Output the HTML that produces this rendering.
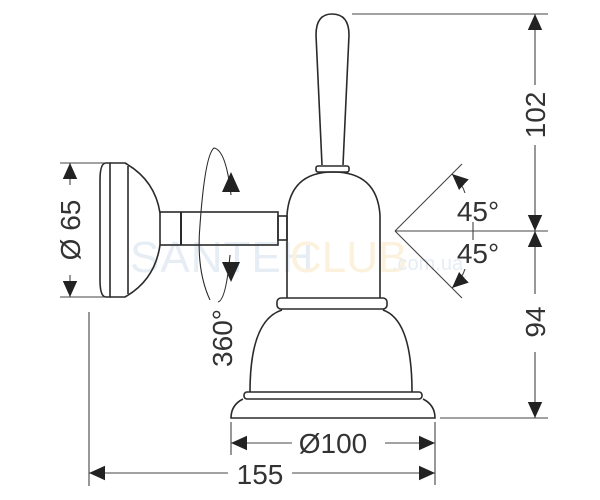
<!DOCTYPE html>
<html><head><meta charset="utf-8"><style>html,body{margin:0;padding:0;background:#fff}svg{display:block}</style></head>
<body>
<svg width="600" height="500" viewBox="0 0 600 500" xmlns="http://www.w3.org/2000/svg" font-family="Liberation Sans, sans-serif">
<defs>
<marker id="a" viewBox="0 0 10 10" refX="10" refY="5" markerWidth="16" markerHeight="16" markerUnits="userSpaceOnUse" orient="auto"><path d="M0,0.5L10,5L0,9.5z" fill="#222"/></marker>
</defs>
<text x="130" y="272" font-size="44" fill="#e6edf4" letter-spacing="1">SANTEH</text>
<text x="290" y="272" font-size="44" fill="#fcf1dc">CLUB</text>
<text x="392" y="270" font-size="20" fill="#e6edf4">.com.ua</text>
<g fill="none" stroke="#2a2a2a" stroke-width="1.6">
<path d="M322,165 L316,35 Q316,14 332,14 Q349,14 349,35 L343,165"/>
<rect x="316" y="166" width="33" height="6" rx="2"/>
<path d="M287,298 L287,215 Q290,172 333,172 Q377,172 380,215 L380,298"/>
<rect x="277" y="298" width="110" height="11" rx="4"/>
<path d="M250,392 Q250,320 282,310 M383,310 Q412,320 412,392"/>
<rect x="244" y="392" width="178" height="7" rx="3"/>
<path d="M243,399 Q231,405 231,418 L435,418 Q435,405 423,399"/>
<path d="M106,163 Q100,163 100,180 L100,280 Q100,297 106,297 L110,297 L110,163 Z"/>
<path d="M110,163 L125,163 Q155,180 160,213 M110,297 L125,297 Q155,280 160,245"/>
<line x1="128" y1="166" x2="128" y2="294"/>
<rect x="160" y="212" width="118" height="33"/>
<line x1="181" y1="212" x2="181" y2="245" stroke-width="2"/>
<rect x="278" y="216" width="9" height="24"/>
<path d="M210,300 Q196,270 200,225 Q205,155 214,148 Q226,150 231,195 M230,255 Q226,300 218,302" stroke-width="1.1"/>
</g>
<g stroke="#444" stroke-width="1.1" fill="none">
<line x1="352" y1="14" x2="548" y2="14"/>
<line x1="395" y1="231" x2="548" y2="231"/>
<line x1="440" y1="418" x2="548" y2="418"/>
<line x1="535" y1="85" x2="535" y2="14" marker-end="url(#a)"/>
<line x1="535" y1="145" x2="535" y2="231" marker-end="url(#a)"/>
<line x1="535" y1="294" x2="535" y2="231" marker-end="url(#a)"/>
<line x1="535" y1="352" x2="535" y2="418" marker-end="url(#a)"/>
<line x1="395" y1="231" x2="462" y2="164"/>
<line x1="395" y1="231" x2="462" y2="298"/>
<path d="M465,193 Q462,183 452,174" marker-end="url(#a)"/>
<path d="M465,269 Q462,279 452,288" marker-end="url(#a)"/>
<line x1="473" y1="222" x2="473" y2="240"/>
<line x1="60" y1="163" x2="104" y2="163"/>
<line x1="60" y1="297" x2="104" y2="297"/>
<line x1="70" y1="185" x2="70" y2="163" marker-end="url(#a)"/>
<line x1="70" y1="275" x2="70" y2="297" marker-end="url(#a)"/>
<line x1="231" y1="422" x2="231" y2="455"/>
<line x1="435" y1="422" x2="435" y2="485"/>
<line x1="292" y1="443" x2="231" y2="443" marker-end="url(#a)"/>
<line x1="385" y1="443" x2="435" y2="443" marker-end="url(#a)"/>
<line x1="89" y1="312" x2="89" y2="486"/>
<line x1="228" y1="473" x2="89" y2="473" marker-end="url(#a)"/>
<line x1="292" y1="473" x2="435" y2="473" marker-end="url(#a)"/>
</g>
<path d="M231,172 L222,192 L240,192 Z" fill="#222"/>
<path d="M231,282 L222,262 L240,262 Z" fill="#222"/>
<g fill="#333" font-size="28">
<text x="333" y="453" text-anchor="middle">Ø100</text>
<text x="260" y="484" text-anchor="middle">155</text>
<text x="478" y="221" text-anchor="middle">45°</text>
<text x="478" y="263" text-anchor="middle">45°</text>
<text transform="translate(545,115) rotate(-90)" text-anchor="middle">102</text>
<text transform="translate(545,322) rotate(-90)" text-anchor="middle">94</text>
<text transform="translate(80,230) rotate(-90)" text-anchor="middle">Ø 65</text>
<text transform="translate(232,338) rotate(-90)" text-anchor="middle">360°</text>
</g>
</svg>
</body></html>
